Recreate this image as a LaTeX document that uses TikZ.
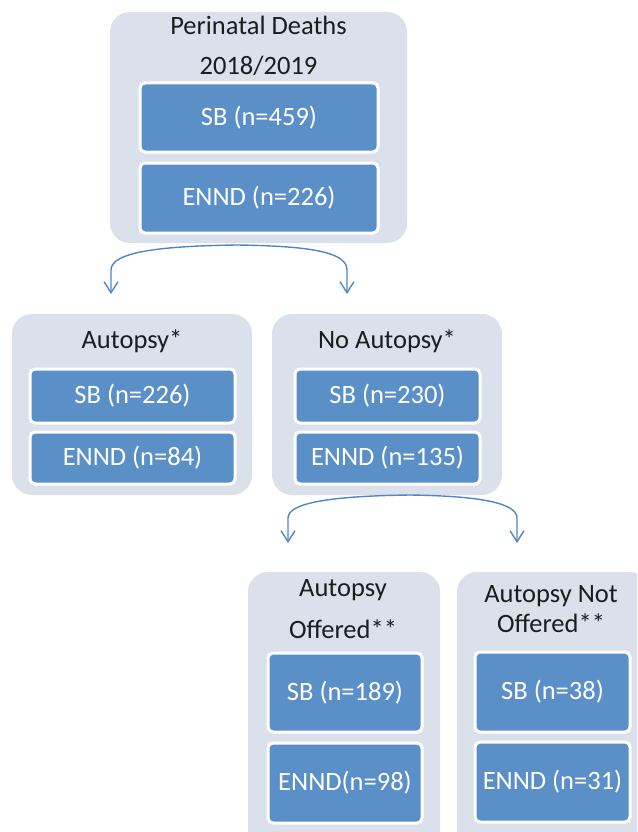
\documentclass[tikz,border=0pt]{standalone}
\usepackage{fontspec}
\setmainfont{Carlito}
\usetikzlibrary{arrows.meta}
\definecolor{boxpale}{HTML}{DAE1EB}
\definecolor{boxblue}{HTML}{5B8FC7}
\definecolor{linkblue}{HTML}{4F86C6}
\definecolor{inkdark}{HTML}{1C1C1C}

\begin{document}
\begin{tikzpicture}[x=1pt, y=-1pt, font=\fontsize{26.5}{31}\selectfont,
  panel/.style={fill=boxpale, rounded corners=20pt, inner sep=0pt},
  cell/.style={fill=boxblue, draw=white, line width=3pt, rounded corners=5pt,
    text=white, inner sep=0pt},
  heading/.style={text=inkdark, inner sep=0pt},
  link/.style={linkblue, line width=1.4pt,
    -{Straight Barb[length=11pt, width=14pt]}}]
  \path[use as bounding box, clip] (0,0) rectangle (637,832);
  % grey panels
  \foreach \nm/\x/\y/\w/\h in {top/258.5/127.5/297/231, aut/132/404.5/240/181,
      noaut/387/404.5/230/181, off/344/711/192/278, notoff/553.5/711/193/278}{%
    \node[panel, minimum width=\w pt, minimum height=\h pt] (\nm) at (\x,\y) {};}
  % panel headings
  \foreach \nm/\x/\y/\lab in {hpd/258.5/25/Perinatal Deaths, hyr/258.5/66/2018\slash 2019,
      haut/132/341/Autopsy*, hnoaut/387/341/No Autopsy*,
      hoffa/343/590/Autopsy, hoffb/343/629/Offered**,
      hnota/551/596/Autopsy Not, hnotb/551/623/Offered**}{%
    \node[heading] (\nm) at (\x,\y) {\lab};}
  % blue count boxes
  \foreach \nm/\x/\y/\w/\h/\lab in {topsb/259/117.5/238/69/SB (n=459),
      topennd/259/198/238/70/ENND (n=226),
      autsb/132.5/396/205/54/SB (n=226), autennd/132.5/458/205/52/ENND (n=84),
      noautsb/387.5/396/185/54/SB (n=230), noautennd/387.5/458/185/52/ENND (n=135),
      offsb/345/692.5/154/79/SB (n=189), offennd/345/783/154/80/ENND(n=98),
      notoffsb/552.5/692/155/80/SB (n=38), notoffennd/552.5/782/155/80/ENND (n=31)}{%
    \node[cell, minimum width=\w pt, minimum height=\h pt] (\nm) at (\x,\y) {\lab};}
  % split arrows
  \coordinate (split1) at (237,245);
  \coordinate (tipaut) at (111,294);
  \coordinate (tipnoaut) at (347,294);
  \draw[link] (split1) .. controls (160,246) and (111,252) .. (111,270) -- (tipaut);
  \draw[link] (split1) .. controls (310,246) and (347,252) .. (347,270) -- (tipnoaut);
  \coordinate (split2) at (410,495);
  \coordinate (tipoff) at (288,543);
  \coordinate (tipnotoff) at (517,543);
  \draw[link] (split2) .. controls (330,496) and (288,503) .. (288,518) -- (tipoff);
  \draw[link] (split2) .. controls (480,496) and (517,503) .. (517,518) -- (tipnotoff);
\end{tikzpicture}
\end{document}
